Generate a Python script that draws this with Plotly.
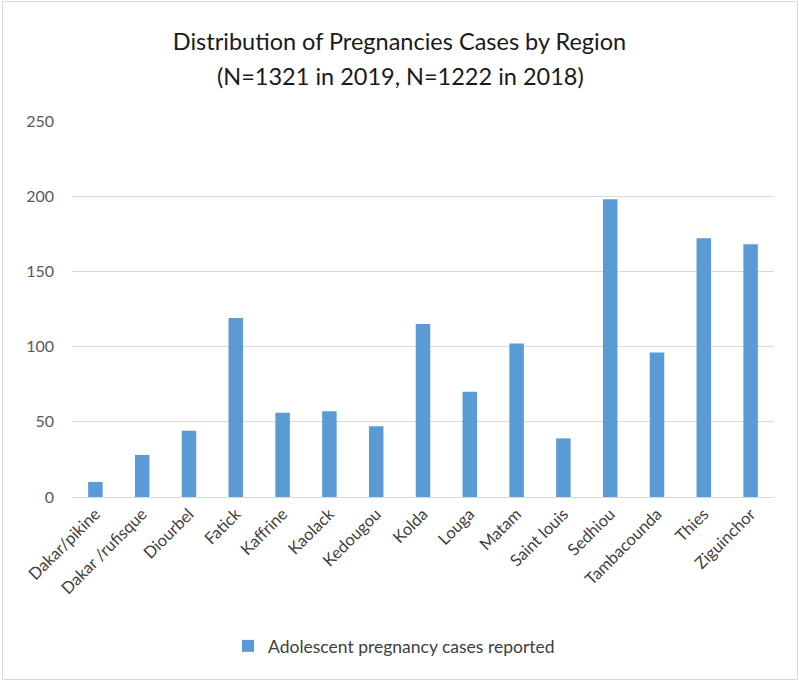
import plotly.graph_objects as go

regions = ["Dakar/pikine", "Dakar /rufisque", "Diourbel", "Fatick", "Kaffrine", "Kaolack",
           "Kedougou", "Kolda", "Louga", "Matam", "Saint louis", "Sedhiou",
           "Tambacounda", "Thies", "Ziguinchor"]
cases = [10, 28, 44, 119, 56, 57, 47, 115, 70, 102, 39, 198, 96, 172, 168]
series_name = "Adolescent pregnancy cases reported"
title_line1 = "Distribution of Pregnancies Cases by Region"
title_line2 = "(N=1321 in 2019, N=1222 in 2018)"
y_ticks = [0, 50, 100, 150, 200, 250]

W, H = 799, 682
L, R, T, B = 72, 25, 121, 185
pw, ph = W - L - R, H - T - B

def px_x(p):
    return (p - L) / pw

def px_y(p):
    return (H - B - p) / ph

FONT = "Lato"

fig = go.Figure()
fig.add_trace(go.Bar(
    x=regions, y=cases, name=series_name,
    marker=dict(color="#5B9BD5", line=dict(width=0)),
    showlegend=True,
))

fig.update_layout(
    width=W, height=H,
    margin=dict(l=L, r=R, t=T, b=B, autoexpand=False),
    paper_bgcolor="white", plot_bgcolor="white",
    bargap=0.69,
    font=dict(family=FONT, color="#595959", size=16),
    title=dict(text=title_line1, x=0.5, xanchor="center", xref="container",
               y=1 - 42 / H, yanchor="middle", yref="container",
               font=dict(family=FONT, size=23.5, color="#1a1a1a")),
    showlegend=True,
    legend=dict(orientation="h", x=px_x(394), xanchor="center", y=px_y(646), yanchor="middle",
                font=dict(family=FONT, size=17.5, color="#404040"),
                itemwidth=30),
    xaxis=dict(tickangle=-45, showgrid=False, showline=True, linecolor="#D9D9D9",
               linewidth=1, ticks="", automargin=False,
               tickfont=dict(family=FONT, size=16.5, color="#404040")),
    yaxis=dict(range=[0, 250], tickvals=y_ticks, showgrid=True, gridcolor="#D9D9D9",
               gridwidth=1, zeroline=False, showline=False, ticks="", automargin=False,
               ticklabelstandoff=17,
               tickfont=dict(family=FONT, size=16, color="#595959")),
    annotations=[dict(text=title_line2, xref="paper", yref="paper",
                      x=px_x(400), y=px_y(76), xanchor="center", yanchor="middle",
                      showarrow=False, font=dict(family=FONT, size=23.5, color="#1a1a1a"))],
    shapes=[dict(type="rect", xref="paper", yref="paper",
                 x0=px_x(2.5), x1=px_x(797.5), y0=px_y(679.5), y1=px_y(1.5),
                 line=dict(color="#D9D9D9", width=1), fillcolor="rgba(0,0,0,0)",
                 layer="below")],
)

fig.write_html("out.html", config={"displayModeBar": False},
               post_script="document.body.style.margin='0';document.body.style.overflow='hidden';")
